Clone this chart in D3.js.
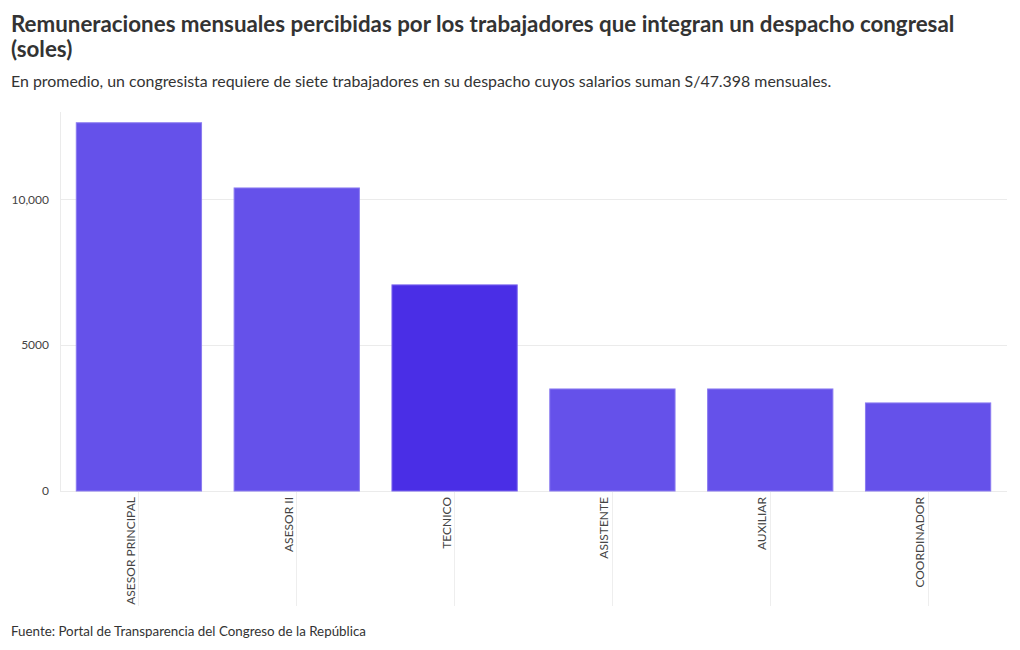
<!DOCTYPE html>
<html><head><meta charset="utf-8">
<script src="https://cdn.jsdelivr.net/npm/d3@7"></script>
<style>
body{margin:0;background:#fff;font-family:"Source Sans Pro","Lato","Noto Sans",sans-serif;}
svg text{font-family:"Source Sans Pro","Lato","Noto Sans",sans-serif;}
</style></head><body>
<svg id="c" width="1020" height="650"></svg>
<script>
const categories = ["ASESOR PRINCIPAL","ASESOR II","TECNICO","ASISTENTE","AUXILIAR","COORDINADOR"];
const values = [12650, 10410, 7080, 3505, 3505, 3025];
const highlighted = ["TECNICO"];
const yTicks = [0, 5000, 10000];
const yTickLabels = ["0","5000","10,000"];
const titleLines = ["Remuneraciones mensuales percibidas por los trabajadores que integran un despacho congresal","(soles)"];
const subtitle = "En promedio, un congresista requiere de siete trabajadores en su despacho cuyos salarios suman S/47.398 mensuales.";
const source = "Fuente: Portal de Transparencia del Congreso de la República";

const svg = d3.select("#c");
const W = 1020, H = 650;
const plot = {left: 60, right: 1007, top: 112, bottom: 491};

function fitText(sel, target){
  const node = sel.node();
  let fs = parseFloat(sel.attr("font-size"));
  const w = node.getComputedTextLength();
  if (w > 0) sel.attr("font-size", (fs * target / w).toFixed(2));
}

const t1 = svg.append("text").attr("x",11).attr("y",32).attr("font-size",21).attr("font-weight",700).attr("fill","#333").text(titleLines[0]);
fitText(t1, 944);
svg.append("text").attr("x",11).attr("y",57).attr("font-size",t1.attr("font-size")).attr("font-weight",700).attr("fill","#333").text(titleLines[1]);
const st = svg.append("text").attr("x",11).attr("y",87).attr("font-size",15).attr("fill","#333").text(subtitle);
fitText(st, 821);
const ft = svg.append("text").attr("x",11).attr("y",636).attr("font-size",13).attr("fill","#333").text(source);
fitText(ft, 355);

const x = d3.scaleBand().domain(categories).range([plot.left, plot.right]).paddingInner(0.2).paddingOuter(0.1);
const y = d3.scaleLinear().domain([0, 13020]).range([plot.bottom, plot.top]);

// y gridlines
svg.append("g").selectAll("line").data(yTicks).join("line")
  .attr("x1", plot.left).attr("x2", plot.right)
  .attr("y1", d=>y(d)).attr("y2", d=>y(d))
  .attr("stroke","#ebebeb").attr("stroke-width",1).attr("shape-rendering","crispEdges");
// left axis line
svg.append("line").attr("x1",plot.left).attr("x2",plot.left).attr("y1",plot.top).attr("y2",plot.bottom)
  .attr("stroke","#ebebeb").attr("shape-rendering","crispEdges");

// x tick lines below axis
svg.append("g").selectAll("line").data(categories).join("line")
  .attr("x1", d=>x(d)+x.bandwidth()/2).attr("x2", d=>x(d)+x.bandwidth()/2)
  .attr("y1", plot.bottom).attr("y2", 606)
  .attr("stroke","#eeeeee").attr("shape-rendering","crispEdges");

// y tick labels
svg.append("g").selectAll("text").data(yTicks).join("text")
  .attr("x", 49).attr("y", d=>y(d)+4).attr("text-anchor","end")
  .attr("font-size",12).attr("fill","#444").text((d,i)=>yTickLabels[i]);

// bars
svg.append("g").selectAll("rect").data(categories).join("rect")
  .attr("x", d=>x(d)+0.5).attr("width", x.bandwidth()-1)
  .attr("y", (d,i)=>y(values[i])).attr("height",(d,i)=>y(0)-y(values[i]))
  .attr("fill", d=>highlighted.includes(d) ? "#4a2ee6" : "#6551ea")
  .attr("stroke", d=>highlighted.includes(d) ? "#7b66ee" : "#8a7af0").attr("stroke-width",1);

// x labels
svg.append("g").selectAll("text").data(categories).join("text")
  .attr("transform", d=>`translate(${x(d)+x.bandwidth()/2-4},497) rotate(-90)`)
  .attr("text-anchor","end").attr("font-size",12).attr("fill","#444").text(d=>d);
</script></body></html>
